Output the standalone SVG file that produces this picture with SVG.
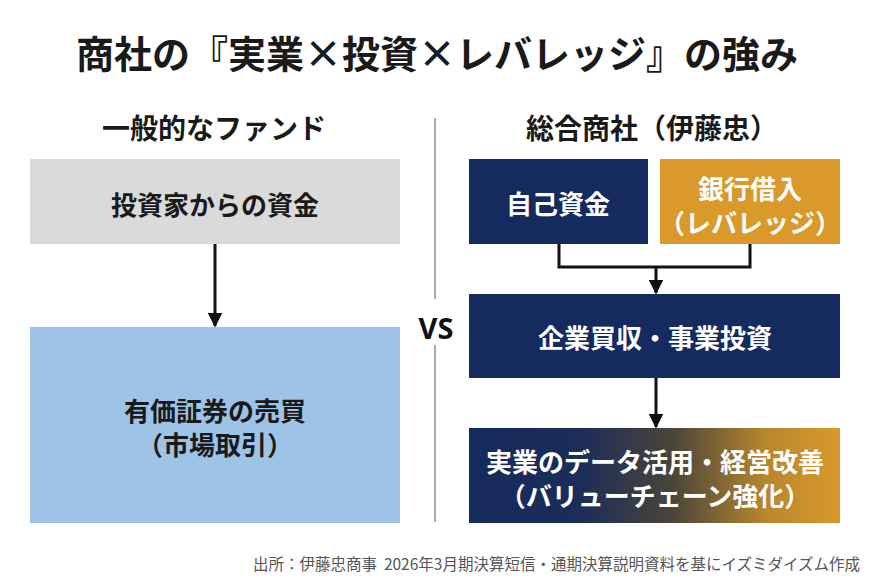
<svg xmlns="http://www.w3.org/2000/svg" width="870" height="583" viewBox="0 0 870 583">
<defs>
<style>
text{font-family:"Noto Sans CJK JP","Noto Sans",sans-serif;font-weight:700;text-anchor:middle;dominant-baseline:central}
.title{font-size:38px;fill:#1a1a1a}
.hdr{font-size:28px;fill:#1a1a1a}
.lbl{font-size:26px}
.dark{fill:#1a1a1a}
.wh{fill:#ffffff}
.navy{fill:#152a5e}
.gold{fill:#d9992b}
.line{stroke:#111;stroke-width:3;fill:none}
.foot{font-size:15.5px;font-weight:400;fill:#555;text-anchor:end;white-space:pre}
</style>
<linearGradient id="grad" x1="0" y1="0" x2="1" y2="0">
<stop offset="0" stop-color="#152a5e"/>
<stop offset="0.3" stop-color="#1b2d58"/>
<stop offset="0.55" stop-color="#4a4538"/>
<stop offset="0.8" stop-color="#b8862e"/>
<stop offset="1" stop-color="#d9992b"/>
</linearGradient>
<marker id="arr" viewBox="0 0 10 10" refX="9" refY="5" markerWidth="5" markerHeight="5" markerUnits="strokeWidth" orient="auto">
<path d="M0,0 L10,5 L0,10 z" fill="#111"/>
</marker>
</defs>
<rect width="870" height="583" fill="#ffffff"/>
<text class="title" x="437" y="51">商社の『実業×投資×レバレッジ』の強み</text>
<text class="hdr" x="214" y="127">一般的なファンド</text>
<text class="hdr" x="652" y="127">総合商社（伊藤忠）</text>
<g id="divider">
<line x1="435" y1="118" x2="435" y2="299" stroke="#aaa" stroke-width="2"/>
<line x1="435" y1="345" x2="435" y2="522" stroke="#aaa" stroke-width="2"/>
</g>
<text id="vs" x="436" y="327" style="font-size:29px;fill:#111;font-family:'Noto Sans','Liberation Sans',sans-serif">VS</text>
<g id="investor-fund">
<rect x="30" y="159" width="370" height="85" fill="#dadada"/>
<text class="lbl dark" x="215" y="203">投資家からの資金</text>
</g>
<g id="securities">
<rect x="30" y="327" width="370" height="196" fill="#9dc3e6"/>
<text class="lbl dark" x="215" y="409">有価証券の売買</text>
<text class="lbl dark" x="215" y="443">（市場取引）</text>
</g>
<g id="own-fund">
<rect x="469" y="159" width="179" height="85" class="navy"/>
<text class="lbl wh" x="558" y="202">自己資金</text>
</g>
<g id="bank-loan">
<rect x="660" y="159" width="180" height="85" class="gold"/>
<text class="lbl wh" x="750" y="187">銀行借入</text>
<text class="lbl wh" x="750" y="221">（レバレッジ）</text>
</g>
<g id="acquisition">
<rect x="469" y="294" width="371" height="84" class="navy"/>
<text class="lbl wh" x="655" y="336">企業買収・事業投資</text>
</g>
<g id="data-use">
<rect x="469" y="428" width="371" height="95" fill="url(#grad)"/>
<text class="lbl wh" x="655" y="460">実業のデータ活用・経営改善</text>
<text class="lbl wh" x="655" y="494">（バリューチェーン強化）</text>
</g>
<g id="connectors">
<line class="line" x1="215" y1="244" x2="215" y2="326" marker-end="url(#arr)"/>
<polyline class="line" points="559,244 559,267 750,267 750,244"/>
<line class="line" x1="656" y1="267" x2="656" y2="293" marker-end="url(#arr)"/>
<line class="line" x1="656" y1="378" x2="656" y2="427" marker-end="url(#arr)"/>
</g>
<text class="foot" x="860" y="563">出所：伊藤忠商事  2026年3月期決算短信・通期決算説明資料を基にイズミダイズム作成</text>
</svg>
